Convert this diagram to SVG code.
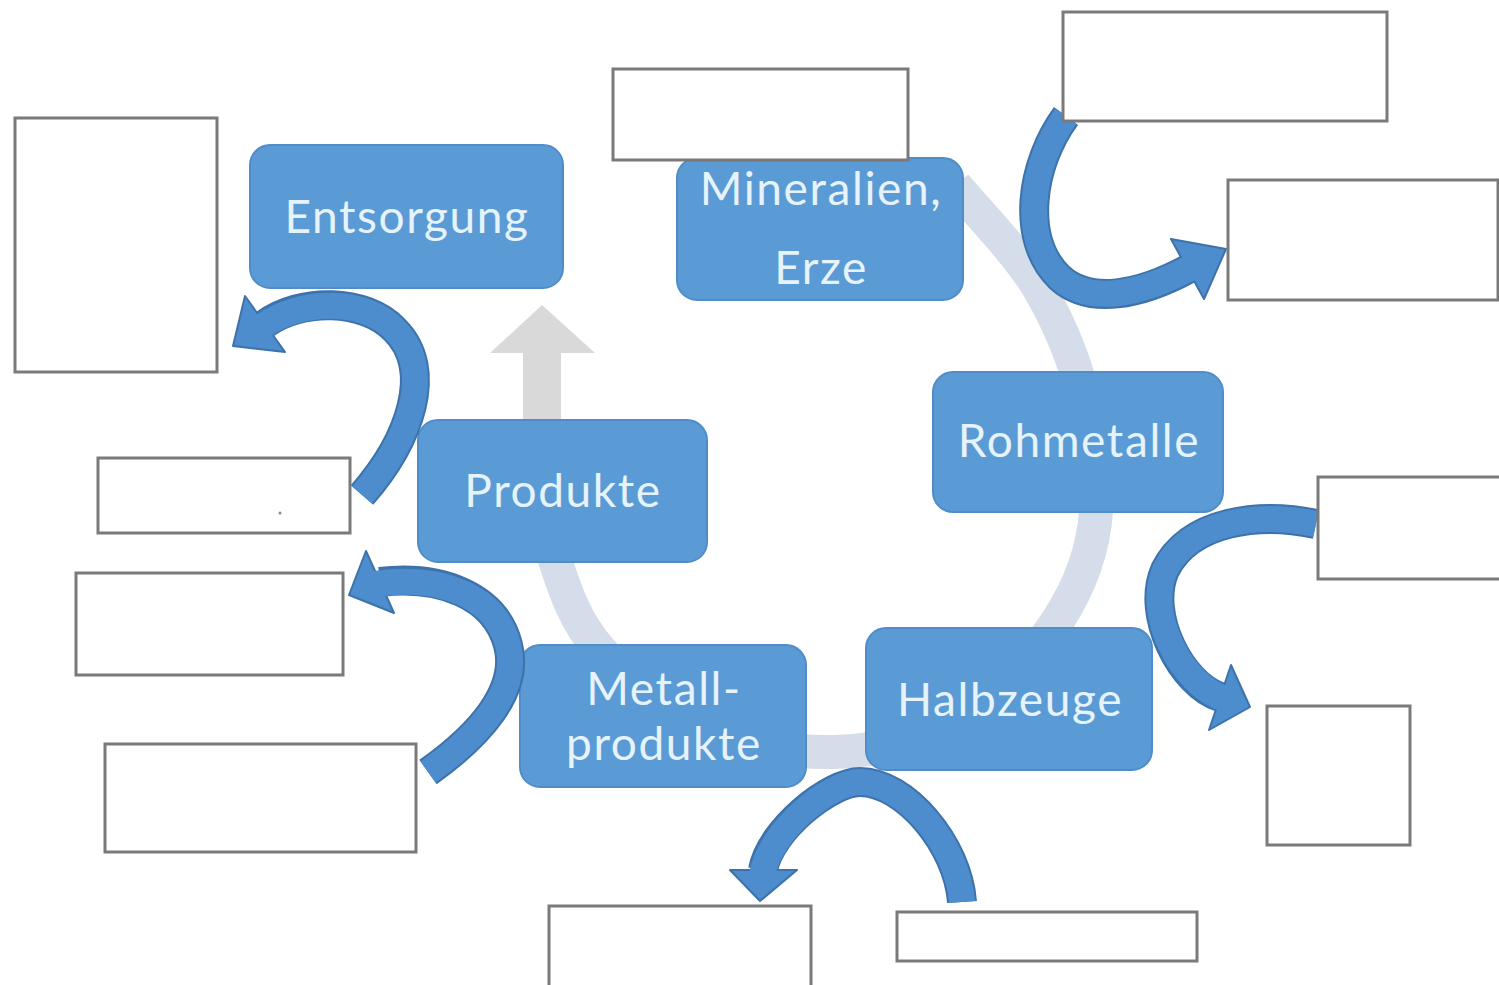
<svg xmlns="http://www.w3.org/2000/svg" width="1499" height="985" viewBox="0 0 1499 985">
  <style>
    .ring { fill: none; stroke: #d5dcea; stroke-width: 34; }
    .box { fill: #5b9bd5; stroke: #4f8cc8; stroke-width: 2; }
    .lbl { font-family: Lato, "Liberation Sans", sans-serif; font-size: 46px; letter-spacing: 1.6px; fill: #e6f3fb; text-anchor: middle; }
    .slot { fill: #ffffff; stroke: #7a7a7a; stroke-width: 3; }
    .band-edge { fill: none; stroke: #3d72ab; stroke-width: 30; }
    .band { fill: none; stroke: #4d8dcd; stroke-width: 26; }
    .head { fill: #4d8dcd; stroke: #3d72ab; stroke-width: 2; stroke-linejoin: round; }
  </style>

  <rect width="1499" height="985" fill="#ffffff"/>

  <!-- cycle background band and the step up to disposal -->
  <g id="cycle-ring">
    <path class="ring" d="M 955 185 C 969 203, 1018 252, 1040 290 C 1062 328, 1079 373, 1088 415 C 1097 457, 1100 502, 1092 540 C 1084 578, 1064 615, 1040 645 C 1016 675, 984 704, 950 722 C 916 740, 876 751, 835 752 C 794 753, 744 745, 705 728 C 666 711, 625 678, 600 650 C 575 622, 564 588, 555 560 C 546 532, 547 493, 545 480"/>
    <polygon points="523,420 523,353 490,353 542,305 595,353 561,353 561,420" fill="#d9d9d9"/>
  </g>

  <!-- process steps -->
  <g id="node-entsorgung">
    <rect class="box" x="250" y="145" width="313" height="143" rx="20"/>
    <text class="lbl" x="407" y="233">Entsorgung</text>
  </g>
  <g id="node-mineralien">
    <rect class="box" x="677" y="158" width="286" height="142" rx="20"/>
    <text class="lbl" x="821" y="205">Mineralien,</text>
    <text class="lbl" x="821" y="284">Erze</text>
  </g>
  <g id="node-rohmetalle">
    <rect class="box" x="933" y="372" width="290" height="140" rx="20"/>
    <text class="lbl" x="1079" y="457">Rohmetalle</text>
  </g>
  <g id="node-halbzeuge">
    <rect class="box" x="866" y="628" width="286" height="142" rx="20"/>
    <text class="lbl" x="1010" y="716">Halbzeuge</text>
  </g>
  <g id="node-metallprodukte">
    <rect class="box" x="520" y="645" width="286" height="142" rx="20"/>
    <text class="lbl" x="664" y="705">Metall-</text>
    <text class="lbl" x="664" y="760">produkte</text>
  </g>
  <g id="node-produkte">
    <rect class="box" x="418" y="420" width="289" height="142" rx="20"/>
    <text class="lbl" x="563" y="507">Produkte</text>
  </g>

  <!-- curved arrows -->
  <g id="connectors">
    <!-- top right -->
    <path class="band-edge" d="M 1066 116 C 1030 165, 1020 240, 1060 278 C 1090 305, 1140 295, 1188 269"/>
    <polygon class="head" points="1171,239 1226,249 1204,299"/>
    <path class="band" d="M 1066 116 C 1030 165, 1020 240, 1060 278 C 1090 305, 1140 295, 1194 266"/>

    <!-- upper left -->
    <path class="band-edge" d="M 362 495 C 410 440, 435 370, 395 330 C 365 298, 300 298, 265 324"/>
    <polygon class="head" points="245,296 233,346 285,352"/>
    <path class="band" d="M 362 495 C 410 440, 435 370, 395 330 C 365 298, 300 298, 260 328"/>

    <!-- lower left -->
    <path class="band-edge" d="M 428 772 C 480 735, 520 690, 508 645 C 495 595, 440 575, 380 582"/>
    <polygon class="head" points="366,551 349,595 394,613"/>
    <path class="band" d="M 428 772 C 480 735, 520 690, 508 645 C 495 595, 440 575, 375 584"/>

    <!-- right -->
    <path class="band-edge" d="M 1316 524 C 1260 512, 1190 520, 1165 570 C 1145 615, 1182 685, 1220 697"/>
    <polygon class="head" points="1231,665 1250,707 1209,730"/>
    <path class="band" d="M 1316 524 C 1260 512, 1190 520, 1165 570 C 1145 615, 1182 685, 1225 699"/>

    <!-- bottom -->
    <path class="band-edge" d="M 962 902 C 958 845, 905 782, 860 782 C 830 782, 770 830, 763 870"/>
    <polygon class="head" points="730,870 760,901 797,870"/>
    <path class="band" d="M 962 902 C 958 845, 905 782, 860 782 C 830 782, 770 830, 762 875"/>
  </g>

  <!-- empty answer fields -->
  <g id="fields">
    <rect id="field-1" class="slot" x="15" y="118" width="202" height="254"/>
    <rect id="field-2" class="slot" x="613" y="69" width="295" height="91"/>
    <rect id="field-3" class="slot" x="1063" y="12" width="324" height="109"/>
    <rect id="field-4" class="slot" x="1228" y="180" width="270" height="120"/>
    <rect id="field-5" class="slot" x="1318" y="477" width="190" height="102"/>
    <rect id="field-6" class="slot" x="1267" y="706" width="143" height="139"/>
    <rect id="field-7" class="slot" x="897" y="912" width="300" height="49"/>
    <rect id="field-8" class="slot" x="549" y="906" width="262" height="90"/>
    <rect id="field-9" class="slot" x="105" y="744" width="311" height="108"/>
    <rect id="field-10" class="slot" x="76" y="573" width="267" height="102"/>
    <rect id="field-11" class="slot" x="98" y="458" width="252" height="75"/>
    <circle cx="280" cy="513" r="1.5" fill="#8a8a8a"/>
  </g>
</svg>
